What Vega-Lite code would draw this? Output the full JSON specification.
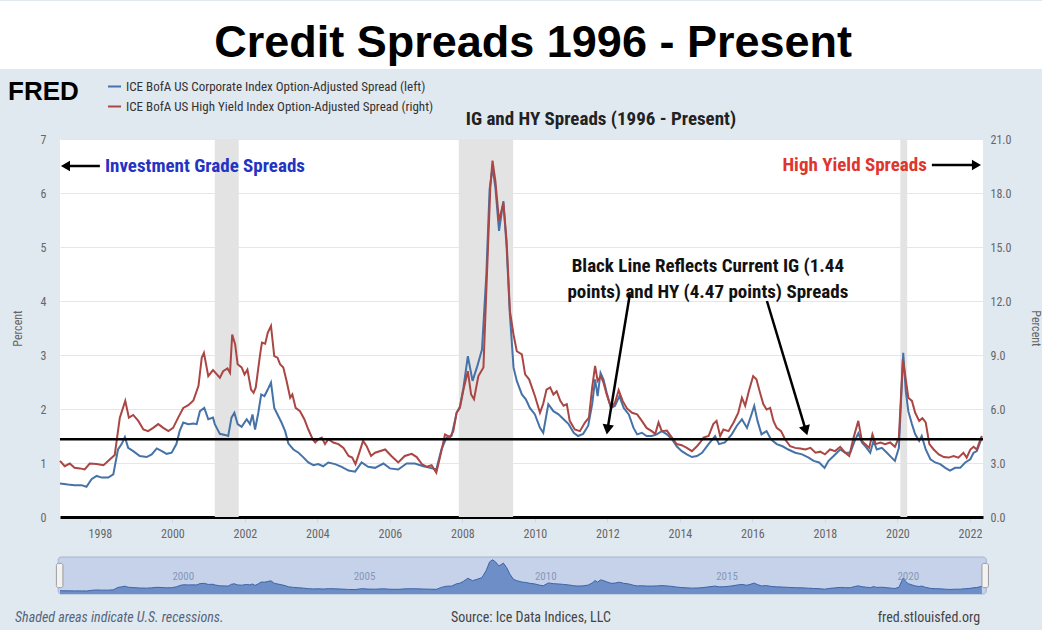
{
  "$schema": "https://vega.github.io/schema/vega-lite/v6.json",
  "background": "#e1e9f0",
  "padding": {"left": 0, "top": 0, "right": 0, "bottom": 6},
  "width": 923,
  "height": 378,
  "view": {"fill": "#ffffff", "stroke": null},
  "config": {
    "font": "Liberation Sans",
    "axis": {"labelFont": "Liberation Sans Narrow, Roboto Condensed, Liberation Sans", "titleFont": "Liberation Sans Narrow, Roboto Condensed, Liberation Sans", "labelColor": "#666666", "titleColor": "#666666"}
  },
  "datasets": {
    "recessions": [
      {"start": 2001.17, "end": 2001.83},
      {"start": 2007.9, "end": 2009.4},
      {"start": 2020.08, "end": 2020.27}
    ],
    "navticks": [{"year": 2000}, {"year": 2005}, {"year": 2010}, {"year": 2015}, {"year": 2020}],
    "ig": [
      {"year": 1996.90, "v": 0.62}, {"year": 1997.12, "v": 0.60}, {"year": 1997.30, "v": 0.59}, {"year": 1997.49, "v": 0.59},
      {"year": 1997.63, "v": 0.56}, {"year": 1997.77, "v": 0.70}, {"year": 1997.91, "v": 0.76}, {"year": 1998.05, "v": 0.73},
      {"year": 1998.23, "v": 0.73}, {"year": 1998.37, "v": 0.79}, {"year": 1998.50, "v": 1.25}, {"year": 1998.60, "v": 1.35},
      {"year": 1998.69, "v": 1.48}, {"year": 1998.78, "v": 1.28}, {"year": 1998.92, "v": 1.22}, {"year": 1999.10, "v": 1.13},
      {"year": 1999.29, "v": 1.11}, {"year": 1999.43, "v": 1.16}, {"year": 1999.57, "v": 1.27}, {"year": 1999.71, "v": 1.22},
      {"year": 1999.84, "v": 1.17}, {"year": 1999.98, "v": 1.19}, {"year": 2000.11, "v": 1.35}, {"year": 2000.20, "v": 1.59},
      {"year": 2000.30, "v": 1.75}, {"year": 2000.44, "v": 1.72}, {"year": 2000.58, "v": 1.73}, {"year": 2000.67, "v": 1.72},
      {"year": 2000.76, "v": 1.96}, {"year": 2000.88, "v": 2.02}, {"year": 2000.99, "v": 1.81}, {"year": 2001.12, "v": 1.84},
      {"year": 2001.17, "v": 1.72}, {"year": 2001.31, "v": 1.54}, {"year": 2001.45, "v": 1.52}, {"year": 2001.54, "v": 1.50},
      {"year": 2001.63, "v": 1.84}, {"year": 2001.71, "v": 1.93}, {"year": 2001.80, "v": 1.72}, {"year": 2001.91, "v": 1.67},
      {"year": 2002.05, "v": 1.81}, {"year": 2002.14, "v": 1.72}, {"year": 2002.21, "v": 1.90}, {"year": 2002.28, "v": 1.62},
      {"year": 2002.37, "v": 1.93}, {"year": 2002.45, "v": 2.27}, {"year": 2002.54, "v": 2.24}, {"year": 2002.63, "v": 2.36},
      {"year": 2002.72, "v": 2.49}, {"year": 2002.81, "v": 2.02}, {"year": 2002.92, "v": 1.87}, {"year": 2003.01, "v": 1.75},
      {"year": 2003.11, "v": 1.59}, {"year": 2003.20, "v": 1.36}, {"year": 2003.34, "v": 1.25}, {"year": 2003.48, "v": 1.19},
      {"year": 2003.62, "v": 1.10}, {"year": 2003.75, "v": 1.01}, {"year": 2003.89, "v": 0.96}, {"year": 2004.02, "v": 0.98},
      {"year": 2004.16, "v": 0.94}, {"year": 2004.30, "v": 1.01}, {"year": 2004.49, "v": 0.98}, {"year": 2004.67, "v": 0.93},
      {"year": 2004.86, "v": 0.86}, {"year": 2005.04, "v": 0.84}, {"year": 2005.22, "v": 1.01}, {"year": 2005.40, "v": 0.93},
      {"year": 2005.59, "v": 0.91}, {"year": 2005.82, "v": 0.99}, {"year": 2006.00, "v": 0.90}, {"year": 2006.23, "v": 0.88},
      {"year": 2006.46, "v": 0.99}, {"year": 2006.69, "v": 0.99}, {"year": 2006.92, "v": 0.94}, {"year": 2007.11, "v": 0.91},
      {"year": 2007.28, "v": 0.88}, {"year": 2007.42, "v": 1.25}, {"year": 2007.56, "v": 1.47}, {"year": 2007.70, "v": 1.50},
      {"year": 2007.84, "v": 1.93}, {"year": 2007.93, "v": 2.04}, {"year": 2008.03, "v": 2.40}, {"year": 2008.15, "v": 2.98},
      {"year": 2008.28, "v": 2.52}, {"year": 2008.40, "v": 2.77}, {"year": 2008.54, "v": 3.10}, {"year": 2008.66, "v": 4.49},
      {"year": 2008.75, "v": 6.07}, {"year": 2008.83, "v": 6.47}, {"year": 2008.91, "v": 6.10}, {"year": 2009.01, "v": 5.30},
      {"year": 2009.13, "v": 5.85}, {"year": 2009.22, "v": 4.99}, {"year": 2009.31, "v": 3.75}, {"year": 2009.41, "v": 2.77},
      {"year": 2009.50, "v": 2.52}, {"year": 2009.64, "v": 2.27}, {"year": 2009.75, "v": 2.18}, {"year": 2009.86, "v": 2.02},
      {"year": 2010.00, "v": 1.90}, {"year": 2010.14, "v": 1.65}, {"year": 2010.23, "v": 1.56}, {"year": 2010.37, "v": 2.09},
      {"year": 2010.51, "v": 1.96}, {"year": 2010.65, "v": 1.90}, {"year": 2010.79, "v": 1.81}, {"year": 2010.93, "v": 1.72},
      {"year": 2011.07, "v": 1.56}, {"year": 2011.19, "v": 1.50}, {"year": 2011.33, "v": 1.54}, {"year": 2011.47, "v": 1.69},
      {"year": 2011.58, "v": 2.09}, {"year": 2011.66, "v": 2.55}, {"year": 2011.73, "v": 2.24}, {"year": 2011.81, "v": 2.67},
      {"year": 2011.89, "v": 2.55}, {"year": 2011.98, "v": 2.30}, {"year": 2012.10, "v": 2.02}, {"year": 2012.21, "v": 2.06},
      {"year": 2012.33, "v": 2.24}, {"year": 2012.45, "v": 2.02}, {"year": 2012.59, "v": 1.90}, {"year": 2012.72, "v": 1.65},
      {"year": 2012.82, "v": 1.53}, {"year": 2012.95, "v": 1.56}, {"year": 2013.08, "v": 1.50}, {"year": 2013.22, "v": 1.50},
      {"year": 2013.36, "v": 1.53}, {"year": 2013.50, "v": 1.59}, {"year": 2013.64, "v": 1.53}, {"year": 2013.78, "v": 1.44},
      {"year": 2013.91, "v": 1.31}, {"year": 2014.05, "v": 1.22}, {"year": 2014.19, "v": 1.16}, {"year": 2014.33, "v": 1.11},
      {"year": 2014.47, "v": 1.13}, {"year": 2014.61, "v": 1.19}, {"year": 2014.79, "v": 1.35}, {"year": 2014.97, "v": 1.50},
      {"year": 2015.08, "v": 1.35}, {"year": 2015.24, "v": 1.38}, {"year": 2015.43, "v": 1.53}, {"year": 2015.57, "v": 1.69},
      {"year": 2015.71, "v": 1.81}, {"year": 2015.85, "v": 1.65}, {"year": 2015.96, "v": 1.87}, {"year": 2016.05, "v": 2.06},
      {"year": 2016.14, "v": 1.78}, {"year": 2016.25, "v": 1.53}, {"year": 2016.39, "v": 1.59}, {"year": 2016.51, "v": 1.44},
      {"year": 2016.67, "v": 1.35}, {"year": 2016.83, "v": 1.31}, {"year": 2016.99, "v": 1.25}, {"year": 2017.18, "v": 1.19},
      {"year": 2017.37, "v": 1.16}, {"year": 2017.55, "v": 1.10}, {"year": 2017.69, "v": 1.04}, {"year": 2017.84, "v": 1.01},
      {"year": 2017.99, "v": 0.91}, {"year": 2018.10, "v": 1.04}, {"year": 2018.24, "v": 1.13}, {"year": 2018.42, "v": 1.25},
      {"year": 2018.56, "v": 1.19}, {"year": 2018.70, "v": 1.19}, {"year": 2018.82, "v": 1.41}, {"year": 2018.92, "v": 1.55},
      {"year": 2019.02, "v": 1.38}, {"year": 2019.15, "v": 1.28}, {"year": 2019.25, "v": 1.19}, {"year": 2019.34, "v": 1.41},
      {"year": 2019.43, "v": 1.25}, {"year": 2019.57, "v": 1.28}, {"year": 2019.71, "v": 1.19}, {"year": 2019.84, "v": 1.10},
      {"year": 2019.93, "v": 1.04}, {"year": 2020.04, "v": 1.28}, {"year": 2020.16, "v": 3.04}, {"year": 2020.23, "v": 2.33},
      {"year": 2020.30, "v": 1.96}, {"year": 2020.40, "v": 1.72}, {"year": 2020.49, "v": 1.53}, {"year": 2020.60, "v": 1.41},
      {"year": 2020.67, "v": 1.50}, {"year": 2020.78, "v": 1.25}, {"year": 2020.91, "v": 1.07}, {"year": 2021.04, "v": 1.01},
      {"year": 2021.18, "v": 0.98}, {"year": 2021.32, "v": 0.91}, {"year": 2021.45, "v": 0.86}, {"year": 2021.59, "v": 0.91},
      {"year": 2021.73, "v": 0.91}, {"year": 2021.87, "v": 1.01}, {"year": 2022.01, "v": 1.07}, {"year": 2022.10, "v": 1.19},
      {"year": 2022.19, "v": 1.22}, {"year": 2022.28, "v": 1.38}, {"year": 2022.33, "v": 1.47}
    ],
    "hy": [
      {"year": 1996.90, "v": 3.12}, {"year": 1997.03, "v": 2.82}, {"year": 1997.17, "v": 2.97}, {"year": 1997.30, "v": 2.73},
      {"year": 1997.45, "v": 2.70}, {"year": 1997.58, "v": 2.64}, {"year": 1997.72, "v": 2.97}, {"year": 1997.91, "v": 2.94},
      {"year": 1998.10, "v": 2.88}, {"year": 1998.28, "v": 3.21}, {"year": 1998.41, "v": 3.45}, {"year": 1998.55, "v": 5.52},
      {"year": 1998.70, "v": 6.45}, {"year": 1998.80, "v": 5.52}, {"year": 1998.92, "v": 5.67}, {"year": 1999.06, "v": 5.34},
      {"year": 1999.20, "v": 4.86}, {"year": 1999.33, "v": 4.77}, {"year": 1999.47, "v": 4.95}, {"year": 1999.61, "v": 5.16},
      {"year": 1999.75, "v": 4.95}, {"year": 1999.89, "v": 4.77}, {"year": 2000.02, "v": 4.95}, {"year": 2000.16, "v": 5.52},
      {"year": 2000.30, "v": 6.06}, {"year": 2000.44, "v": 6.21}, {"year": 2000.58, "v": 6.48}, {"year": 2000.72, "v": 7.29},
      {"year": 2000.81, "v": 8.85}, {"year": 2000.87, "v": 9.12}, {"year": 2000.99, "v": 7.83}, {"year": 2001.12, "v": 8.16},
      {"year": 2001.31, "v": 7.74}, {"year": 2001.40, "v": 8.10}, {"year": 2001.52, "v": 8.25}, {"year": 2001.59, "v": 8.01},
      {"year": 2001.65, "v": 10.14}, {"year": 2001.73, "v": 9.60}, {"year": 2001.80, "v": 8.49}, {"year": 2001.91, "v": 8.31},
      {"year": 2001.99, "v": 7.92}, {"year": 2002.07, "v": 8.19}, {"year": 2002.17, "v": 7.08}, {"year": 2002.24, "v": 6.90},
      {"year": 2002.30, "v": 7.20}, {"year": 2002.42, "v": 9.03}, {"year": 2002.47, "v": 9.69}, {"year": 2002.56, "v": 9.63},
      {"year": 2002.63, "v": 10.23}, {"year": 2002.72, "v": 10.62}, {"year": 2002.81, "v": 8.94}, {"year": 2002.90, "v": 8.85},
      {"year": 2002.97, "v": 8.49}, {"year": 2003.06, "v": 8.31}, {"year": 2003.15, "v": 7.56}, {"year": 2003.25, "v": 6.63},
      {"year": 2003.31, "v": 6.81}, {"year": 2003.40, "v": 6.06}, {"year": 2003.52, "v": 5.88}, {"year": 2003.64, "v": 5.43},
      {"year": 2003.75, "v": 4.86}, {"year": 2003.87, "v": 4.32}, {"year": 2003.94, "v": 4.14}, {"year": 2004.02, "v": 4.32},
      {"year": 2004.12, "v": 4.41}, {"year": 2004.21, "v": 4.05}, {"year": 2004.30, "v": 4.32}, {"year": 2004.44, "v": 4.14},
      {"year": 2004.58, "v": 4.05}, {"year": 2004.72, "v": 3.84}, {"year": 2004.86, "v": 3.39}, {"year": 2004.96, "v": 3.30},
      {"year": 2005.05, "v": 2.94}, {"year": 2005.14, "v": 3.48}, {"year": 2005.26, "v": 4.23}, {"year": 2005.36, "v": 3.93},
      {"year": 2005.48, "v": 3.39}, {"year": 2005.59, "v": 3.57}, {"year": 2005.87, "v": 3.75}, {"year": 2006.04, "v": 3.39},
      {"year": 2006.23, "v": 3.03}, {"year": 2006.41, "v": 3.39}, {"year": 2006.60, "v": 3.51}, {"year": 2006.74, "v": 3.33},
      {"year": 2006.88, "v": 2.94}, {"year": 2007.02, "v": 2.79}, {"year": 2007.15, "v": 2.88}, {"year": 2007.28, "v": 2.46},
      {"year": 2007.41, "v": 3.57}, {"year": 2007.52, "v": 4.59}, {"year": 2007.66, "v": 4.44}, {"year": 2007.75, "v": 4.77},
      {"year": 2007.84, "v": 5.79}, {"year": 2007.93, "v": 6.06}, {"year": 2008.03, "v": 7.08}, {"year": 2008.15, "v": 8.10},
      {"year": 2008.24, "v": 6.81}, {"year": 2008.32, "v": 6.54}, {"year": 2008.44, "v": 7.83}, {"year": 2008.58, "v": 8.31},
      {"year": 2008.67, "v": 13.11}, {"year": 2008.77, "v": 18.30}, {"year": 2008.83, "v": 19.80}, {"year": 2008.91, "v": 18.66},
      {"year": 2009.01, "v": 16.44}, {"year": 2009.13, "v": 17.46}, {"year": 2009.22, "v": 15.33}, {"year": 2009.31, "v": 11.43},
      {"year": 2009.41, "v": 10.14}, {"year": 2009.50, "v": 9.21}, {"year": 2009.64, "v": 9.03}, {"year": 2009.73, "v": 7.92},
      {"year": 2009.84, "v": 7.65}, {"year": 2010.00, "v": 6.72}, {"year": 2010.14, "v": 5.79}, {"year": 2010.23, "v": 6.30},
      {"year": 2010.32, "v": 7.08}, {"year": 2010.42, "v": 7.20}, {"year": 2010.51, "v": 6.81}, {"year": 2010.60, "v": 6.99},
      {"year": 2010.70, "v": 6.45}, {"year": 2010.79, "v": 6.18}, {"year": 2010.88, "v": 6.27}, {"year": 2010.96, "v": 5.34},
      {"year": 2011.10, "v": 4.86}, {"year": 2011.24, "v": 4.77}, {"year": 2011.38, "v": 5.25}, {"year": 2011.49, "v": 5.52},
      {"year": 2011.58, "v": 7.20}, {"year": 2011.66, "v": 8.40}, {"year": 2011.73, "v": 7.56}, {"year": 2011.82, "v": 7.83},
      {"year": 2011.89, "v": 7.47}, {"year": 2011.98, "v": 6.81}, {"year": 2012.10, "v": 6.06}, {"year": 2012.21, "v": 6.36},
      {"year": 2012.31, "v": 7.05}, {"year": 2012.42, "v": 6.45}, {"year": 2012.54, "v": 6.03}, {"year": 2012.68, "v": 5.79},
      {"year": 2012.82, "v": 5.70}, {"year": 2012.95, "v": 5.34}, {"year": 2013.08, "v": 4.95}, {"year": 2013.22, "v": 4.77},
      {"year": 2013.32, "v": 4.62}, {"year": 2013.41, "v": 5.25}, {"year": 2013.50, "v": 4.77}, {"year": 2013.64, "v": 4.80},
      {"year": 2013.78, "v": 4.41}, {"year": 2013.91, "v": 4.05}, {"year": 2014.05, "v": 3.99}, {"year": 2014.19, "v": 3.84},
      {"year": 2014.33, "v": 3.66}, {"year": 2014.47, "v": 3.93}, {"year": 2014.56, "v": 4.14}, {"year": 2014.65, "v": 4.41},
      {"year": 2014.79, "v": 4.50}, {"year": 2014.92, "v": 5.16}, {"year": 2015.01, "v": 5.34}, {"year": 2015.11, "v": 4.50},
      {"year": 2015.20, "v": 4.86}, {"year": 2015.34, "v": 4.77}, {"year": 2015.48, "v": 5.25}, {"year": 2015.61, "v": 5.79},
      {"year": 2015.71, "v": 6.63}, {"year": 2015.80, "v": 6.18}, {"year": 2015.90, "v": 6.99}, {"year": 2016.02, "v": 7.83},
      {"year": 2016.11, "v": 7.65}, {"year": 2016.21, "v": 6.90}, {"year": 2016.30, "v": 6.27}, {"year": 2016.39, "v": 5.97},
      {"year": 2016.49, "v": 6.06}, {"year": 2016.58, "v": 5.34}, {"year": 2016.67, "v": 4.95}, {"year": 2016.79, "v": 4.77},
      {"year": 2016.90, "v": 4.32}, {"year": 2017.04, "v": 3.93}, {"year": 2017.18, "v": 3.84}, {"year": 2017.32, "v": 3.81},
      {"year": 2017.46, "v": 3.75}, {"year": 2017.60, "v": 3.84}, {"year": 2017.74, "v": 3.57}, {"year": 2017.87, "v": 3.63},
      {"year": 2018.00, "v": 3.48}, {"year": 2018.14, "v": 3.75}, {"year": 2018.28, "v": 3.66}, {"year": 2018.42, "v": 3.90},
      {"year": 2018.56, "v": 3.57}, {"year": 2018.67, "v": 3.39}, {"year": 2018.79, "v": 4.41}, {"year": 2018.92, "v": 5.34},
      {"year": 2019.02, "v": 4.23}, {"year": 2019.11, "v": 4.05}, {"year": 2019.22, "v": 3.84}, {"year": 2019.31, "v": 4.59},
      {"year": 2019.40, "v": 4.05}, {"year": 2019.53, "v": 4.14}, {"year": 2019.66, "v": 4.05}, {"year": 2019.80, "v": 4.14},
      {"year": 2019.93, "v": 3.90}, {"year": 2020.04, "v": 4.41}, {"year": 2020.15, "v": 8.76}, {"year": 2020.21, "v": 7.92},
      {"year": 2020.30, "v": 6.63}, {"year": 2020.40, "v": 6.45}, {"year": 2020.49, "v": 5.79}, {"year": 2020.60, "v": 5.34},
      {"year": 2020.69, "v": 5.49}, {"year": 2020.78, "v": 5.25}, {"year": 2020.88, "v": 4.05}, {"year": 2021.00, "v": 3.75},
      {"year": 2021.14, "v": 3.48}, {"year": 2021.28, "v": 3.33}, {"year": 2021.41, "v": 3.30}, {"year": 2021.55, "v": 3.39},
      {"year": 2021.68, "v": 3.30}, {"year": 2021.82, "v": 3.57}, {"year": 2021.91, "v": 3.30}, {"year": 2022.01, "v": 3.75},
      {"year": 2022.10, "v": 3.90}, {"year": 2022.19, "v": 3.75}, {"year": 2022.29, "v": 4.32}, {"year": 2022.33, "v": 4.50}
    ]
  },
  "layer": [
    {
      "layer": [
        {
          "data": {"values": [{}]},
          "mark": {"type": "rect", "color": "#ffffff"},
          "encoding": {
            "x": {"datum": 1995.245, "type": "quantitative"}, "x2": {"datum": 2024.0},
            "y": {"datum": 9.556, "type": "quantitative"}, "y2": {"datum": 8.296}
          }
        },
        {
          "data": {"values": [{}]},
          "mark": {"type": "text", "text": "Credit Spreads 1996 - Present", "font": "Liberation Sans", "fontSize": 45, "fontWeight": "bold", "color": "#000000", "align": "center", "baseline": "alphabetic"},
          "encoding": {"x": {"datum": 2009.95, "type": "quantitative"}, "y": {"datum": 8.52, "type": "quantitative"}}
        },
        {
          "data": {"values": [{}]},
          "mark": {"type": "text", "text": "IG and HY Spreads (1996 - Present)", "font": "Liberation Sans Narrow, Roboto Condensed, Liberation Sans", "fontSize": 19, "fontWeight": "bold", "color": "#222222", "align": "center", "baseline": "middle"},
          "encoding": {"x": {"datum": 2011.82, "type": "quantitative"}, "y": {"datum": 7.37, "type": "quantitative"}}
        },
        {
          "data": {"name": "recessions"},
          "mark": {"type": "rect", "color": "#e3e3e3"},
          "encoding": {
            "x": {"field": "start", "type": "quantitative", "scale": {"domain": [1996.9, 2022.36], "nice": false, "zero": false},
              "axis": {"title": null, "values": [1998, 2000, 2002, 2004, 2006, 2008, 2010, 2012, 2014, 2016, 2018, 2020, 2022], "format": "d", "labelFontSize": 12, "labelPadding": 6, "tickColor": "#ccd6eb", "tickSize": 5, "domainColor": "#000000", "domainWidth": 3, "grid": false, "labelFlush": false}},
            "x2": {"field": "end"}
          }
        },
        {
          "data": {"name": "ig"},
          "mark": {"type": "line", "strokeWidth": 2},
          "encoding": {
            "x": {"field": "year", "type": "quantitative"},
            "y": {"field": "v", "type": "quantitative", "scale": {"domain": [0, 7], "nice": false},
              "axis": {"values": [0, 1, 2, 3, 4, 5, 6, 7], "format": "d", "title": "Percent", "titleFontWeight": "normal", "titleFontSize": 12, "titlePadding": 16, "labelFontSize": 12, "labelPadding": 14, "ticks": false, "domain": false, "grid": true, "gridColor": "#e6e6e6"}},
            "color": {
              "datum": "ICE BofA US Corporate Index Option-Adjusted Spread (left)",
              "scale": {"domain": ["ICE BofA US Corporate Index Option-Adjusted Spread (left)", "ICE BofA US High Yield Index Option-Adjusted Spread (right)"], "range": ["#4572a7", "#aa4643"]},
              "legend": {"orient": "none", "legendX": -52, "legendY": -60, "title": "FRED", "titleOrient": "left", "titleFont": "Liberation Sans", "titleFontSize": 26, "titleFontWeight": "bold", "titleColor": "#000000", "titlePadding": 28, "titleBaseline": "top", "titleAnchor": "start", "labelFont": "Liberation Sans Narrow, Roboto Condensed, Liberation Sans", "labelFontSize": 13, "labelColor": "#333333", "labelLimit": 500, "labelOffset": 4, "symbolType": "stroke", "symbolSize": 169, "symbolStrokeWidth": 2, "rowPadding": 5}
            }
          }
        },
        {
          "data": {"values": [{}]},
          "layer": [
            {
              "mark": {"type": "text", "text": "Shaded areas indicate U.S. recessions.", "font": "Liberation Sans Narrow, Roboto Condensed, Liberation Sans", "fontSize": 14, "fontStyle": "italic", "color": "#53657e", "align": "left", "baseline": "middle"},
              "encoding": {"x": {"datum": 1995.66, "type": "quantitative"}, "y": {"datum": -1.87, "type": "quantitative"}}
            },
            {
              "mark": {"type": "text", "text": "Source: Ice Data Indices, LLC", "font": "Liberation Sans Narrow, Roboto Condensed, Liberation Sans", "fontSize": 14, "color": "#444444", "align": "center", "baseline": "middle"},
              "encoding": {"x": {"datum": 2009.89, "type": "quantitative"}, "y": {"datum": -1.87, "type": "quantitative"}}
            },
            {
              "mark": {"type": "text", "text": "fred.stlouisfed.org", "font": "Liberation Sans Narrow, Roboto Condensed, Liberation Sans", "fontSize": 14, "color": "#444444", "align": "right", "baseline": "middle"},
              "encoding": {"x": {"datum": 2022.28, "type": "quantitative"}, "y": {"datum": -1.87, "type": "quantitative"}}
            }
          ]
        }
      ]
    },
    {
      "data": {"name": "hy"},
      "mark": {"type": "line", "strokeWidth": 2},
      "encoding": {
        "x": {"field": "year", "type": "quantitative"},
        "y": {"field": "v", "type": "quantitative", "scale": {"domain": [0, 21], "nice": false},
          "axis": {"orient": "right", "values": [0, 3, 6, 9, 12, 15, 18, 21], "format": ".1f", "title": "Percent", "titleFontWeight": "normal", "titleFontSize": 12, "titlePadding": 18, "labelFontSize": 12, "labelPadding": 7, "ticks": false, "domain": false, "grid": false}},
        "color": {"datum": "ICE BofA US High Yield Index Option-Adjusted Spread (right)"}
      }
    },
    {
      "data": {"values": [{}]},
      "layer": [
        {
          "mark": {"type": "rule", "color": "#000000", "strokeWidth": 2.5},
          "encoding": {"y": {"datum": 1.44, "type": "quantitative", "scale": {"domain": [0, 7], "nice": false}, "axis": null}}
        },
        {
          "mark": {"type": "rule", "color": "#000000", "strokeWidth": 2.5},
          "encoding": {"x": {"datum": 1997.12, "type": "quantitative"}, "x2": {"datum": 1998.0}, "y": {"datum": 6.5, "type": "quantitative", "axis": null}}
        },
        {
          "mark": {"type": "point", "shape": "triangle-left", "filled": true, "color": "#000000", "size": 110, "opacity": 1},
          "encoding": {"x": {"datum": 1997.05, "type": "quantitative"}, "y": {"datum": 6.5, "type": "quantitative", "axis": null}}
        },
        {
          "mark": {"type": "text", "text": "Investment Grade Spreads", "font": "Liberation Sans Narrow, Roboto Condensed, Liberation Sans", "fontSize": 19, "fontWeight": "bold", "color": "#2433c2", "align": "left", "baseline": "middle"},
          "encoding": {"x": {"datum": 1998.14, "type": "quantitative"}, "y": {"datum": 6.5, "type": "quantitative", "axis": null}}
        },
        {
          "mark": {"type": "text", "text": "High Yield Spreads", "font": "Liberation Sans Narrow, Roboto Condensed, Liberation Sans", "fontSize": 19, "fontWeight": "bold", "color": "#e0352c", "align": "right", "baseline": "middle"},
          "encoding": {"x": {"datum": 2020.81, "type": "quantitative"}, "y": {"datum": 6.52, "type": "quantitative", "axis": null}}
        },
        {
          "mark": {"type": "rule", "color": "#000000", "strokeWidth": 2.5},
          "encoding": {"x": {"datum": 2020.95, "type": "quantitative"}, "x2": {"datum": 2022.12}, "y": {"datum": 6.52, "type": "quantitative", "axis": null}}
        },
        {
          "mark": {"type": "point", "shape": "triangle-right", "filled": true, "color": "#000000", "size": 110, "opacity": 1},
          "encoding": {"x": {"datum": 2022.18, "type": "quantitative"}, "y": {"datum": 6.52, "type": "quantitative", "axis": null}}
        },
        {
          "mark": {"type": "text", "text": ["Black Line Reflects Current IG (1.44", "points) and HY (4.47 points) Spreads"], "font": "Liberation Sans Narrow, Roboto Condensed, Liberation Sans", "fontSize": 19, "fontWeight": "bold", "color": "#111111", "align": "center", "baseline": "middle", "lineHeight": 26},
          "encoding": {"x": {"datum": 2014.77, "type": "quantitative"}, "y": {"datum": 4.65, "type": "quantitative", "axis": null}}
        },
        {
          "mark": {"type": "rule", "color": "#000000", "strokeWidth": 2.5},
          "encoding": {"x": {"datum": 2012.62, "type": "quantitative"}, "x2": {"datum": 2012.01}, "y": {"datum": 4.13, "type": "quantitative", "axis": null}, "y2": {"datum": 1.65}}
        },
        {
          "mark": {"type": "point", "shape": "triangle", "filled": true, "color": "#000000", "size": 130, "opacity": 1, "angle": 189},
          "encoding": {"x": {"datum": 2012.01, "type": "quantitative"}, "y": {"datum": 1.65, "type": "quantitative", "axis": null}}
        },
        {
          "mark": {"type": "rule", "color": "#000000", "strokeWidth": 2.5},
          "encoding": {"x": {"datum": 2016.40, "type": "quantitative"}, "x2": {"datum": 2017.46}, "y": {"datum": 4.0, "type": "quantitative", "axis": null}, "y2": {"datum": 1.63}}
        },
        {
          "mark": {"type": "point", "shape": "triangle", "filled": true, "color": "#000000", "size": 130, "opacity": 1, "angle": 163},
          "encoding": {"x": {"datum": 2017.46, "type": "quantitative"}, "y": {"datum": 1.63, "type": "quantitative", "axis": null}}
        }
      ]
    },
    {
      "layer": [
        {
          "data": {"values": [{}]},
          "mark": {"type": "rect", "color": "#c5d2e9", "stroke": "#a3b5d6", "strokeWidth": 1, "cornerRadius": 3},
          "encoding": {
            "x": {"datum": 1996.85, "type": "quantitative"}, "x2": {"datum": 2022.45},
            "y": {"datum": 0, "type": "quantitative", "scale": {"domain": [0, 7], "range": [455, 418], "nice": false}, "axis": null}, "y2": {"datum": 7}
          }
        },
        {
          "data": {"name": "ig"},
          "mark": {"type": "area", "color": "#6d8ec6", "opacity": 1, "line": {"color": "#3d64a8", "strokeWidth": 1}},
          "encoding": {
            "x": {"field": "year", "type": "quantitative"},
            "y": {"field": "v", "type": "quantitative", "axis": null}
          }
        },
        {
          "data": {"name": "navticks"},
          "mark": {"type": "text", "font": "Liberation Sans Narrow, Roboto Condensed, Liberation Sans", "fontSize": 11, "color": "#8597ba", "align": "left", "baseline": "middle"},
          "encoding": {
            "x": {"field": "year", "type": "quantitative"},
            "y": {"datum": 3.3, "type": "quantitative", "axis": null},
            "text": {"field": "year", "type": "quantitative", "format": "d"}
          }
        },
        {
          "data": {"values": [{}]},
          "layer": [
            {
              "mark": {"type": "rect", "color": "#f2f2f2", "stroke": "#9a9a9a", "strokeWidth": 1, "cornerRadius": 2},
              "encoding": {"x": {"datum": 1996.8, "type": "quantitative"}, "x2": {"datum": 1996.98}, "y": {"datum": 1.2, "type": "quantitative", "axis": null}, "y2": {"datum": 5.8}}
            },
            {
              "mark": {"type": "rect", "color": "#f2f2f2", "stroke": "#9a9a9a", "strokeWidth": 1, "cornerRadius": 2},
              "encoding": {"x": {"datum": 2022.33, "type": "quantitative"}, "x2": {"datum": 2022.51}, "y": {"datum": 1.2, "type": "quantitative", "axis": null}, "y2": {"datum": 5.8}}
            }
          ]
        }
      ]
    }
  ],
  "resolve": {"scale": {"y": "independent"}}
}
